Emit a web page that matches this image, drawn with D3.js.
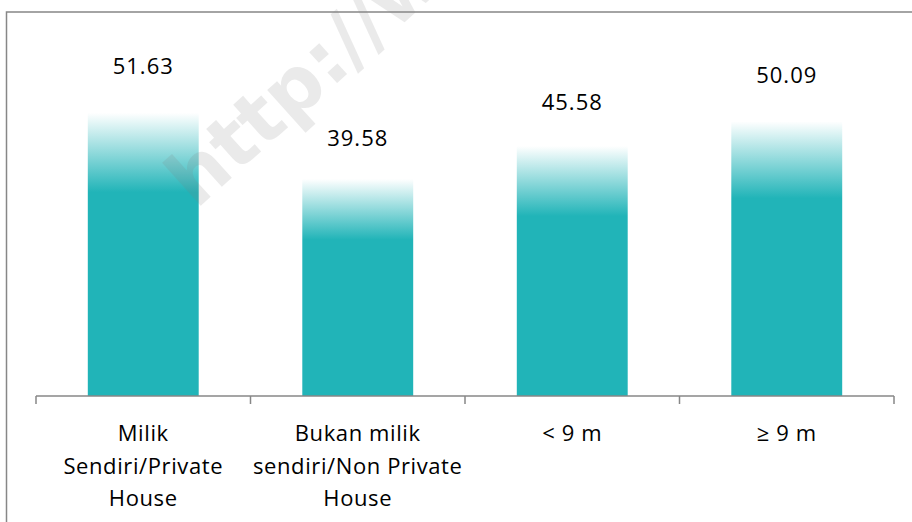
<!DOCTYPE html>
<html>
<head>
<meta charset="utf-8">
<script src="https://cdn.jsdelivr.net/npm/d3@7"></script>
<style>
  html, body { margin: 0; padding: 0; background: #fff; }
  svg { display: block; }
</style>
</head>
<body>
<svg id="chart" width="912" height="522"></svg>
<script>
// ---- data ----
const categories = ["Milik Sendiri/Private House", "Bukan milik sendiri/Non Private House", "< 9 m", "≥ 9 m"];
const categoryLines = [
  ["Milik", "Sendiri/Private", "House"],
  ["Bukan milik", "sendiri/Non Private", "House"],
  ["< 9 m"],
  ["≥ 9 m"]
];
const values = [51.63, 39.58, 45.58, 50.09];
const valueLabels = ["51.63", "39.58", "45.58", "50.09"];
const watermarkText = "http://www.bps.go.id";

// ---- layout ----
const W = 912, H = 522;
const baseY = 396, topY = 67;
const left = 36, right = 894;
const teal = "#21B4B8";
const fontFamily = "'Open Sans', sans-serif";

const svg = d3.select("#chart");

const x = d3.scaleBand()
  .domain(categories)
  .range([left, right])
  .paddingInner(0.483)
  .paddingOuter(0.2415);

const y = d3.scaleLinear().domain([0, 60]).range([baseY, topY]);
// data labels sit on their own (steeper) vertical scale
const yLabel = d3.scaleLinear().domain([0, 60]).range([382.5, 24]);

// gradient
const defs = svg.append("defs");
const grad = defs.append("linearGradient")
  .attr("id", "barGrad")
  .attr("x1", 0).attr("y1", 0).attr("x2", 0).attr("y2", 1);
grad.append("stop").attr("offset", 0).attr("stop-color", "#ffffff");
grad.append("stop").attr("offset", 0.28).attr("stop-color", teal);
grad.append("stop").attr("offset", 1).attr("stop-color", teal);

// bars
svg.append("g").selectAll("rect")
  .data(values)
  .join("rect")
  .attr("x", (d, i) => x(categories[i]))
  .attr("y", d => y(d))
  .attr("width", x.bandwidth())
  .attr("height", d => y(0) - y(d))
  .attr("fill", "url(#barGrad)");

// axis line and ticks
const step = x.step();
const axis = svg.append("g");
axis.append("line")
  .attr("x1", left).attr("x2", right)
  .attr("y1", baseY).attr("y2", baseY)
  .attr("stroke", "#878787").attr("stroke-width", 1.5);
axis.selectAll("line.tick")
  .data(d3.range(categories.length + 1))
  .join("line")
  .attr("class", "tick")
  .attr("x1", i => left + i * step).attr("x2", i => left + i * step)
  .attr("y1", baseY).attr("y2", baseY + 8)
  .attr("stroke", "#878787").attr("stroke-width", 1.5);

// category labels
const catG = svg.append("g")
  .attr("font-family", fontFamily)
  .attr("font-size", 22)
  .attr("letter-spacing", 0.6)
  .attr("fill", "#000");
categoryLines.forEach((lines, i) => {
  const cx = x(categories[i]) + x.bandwidth() / 2;
  const t = catG.append("text").attr("text-anchor", "middle");
  lines.forEach((ln, j) => {
    t.append("tspan").attr("x", cx).attr("y", 441 + j * 32.5).text(ln);
  });
});

// watermark
svg.append("text")
  .attr("transform", "translate(196,210) rotate(-42)")
  .attr("font-family", "'DejaVu Sans', sans-serif")
  .attr("font-weight", "bold")
  .attr("font-size", 76)
  .attr("fill", "#808080")
  .attr("opacity", 0.16)
  .text(watermarkText);

// outer border (right/bottom edges fall outside the picture)
svg.append("rect")
  .attr("x", 6.5).attr("y", 12)
  .attr("width", W + 20).attr("height", H + 20)
  .attr("fill", "none")
  .attr("stroke", "#878787")
  .attr("stroke-width", 1.5);

// value labels
svg.append("g")
  .attr("font-family", fontFamily)
  .attr("font-size", 22)
  .attr("letter-spacing", 1)
  .attr("fill", "#000")
  .selectAll("text")
  .data(values)
  .join("text")
  .attr("x", (d, i) => x(categories[i]) + x.bandwidth() / 2)
  .attr("y", d => yLabel(d))
  .attr("text-anchor", "middle")
  .text((d, i) => valueLabels[i]);
</script>
</body>
</html>
